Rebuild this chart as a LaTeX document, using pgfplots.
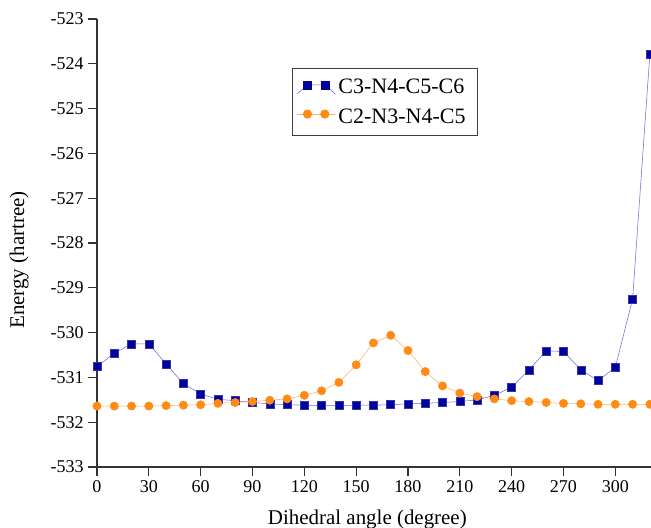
\documentclass[border=0pt]{standalone}
\usepackage{fontspec}
\setmainfont{Liberation Serif}
\usepackage{pgfplots}
\pgfplotsset{compat=1.18}
\definecolor{navy}{HTML}{00009C}
\definecolor{bline}{HTML}{6A6ADF}
\definecolor{orm}{HTML}{FF8A14}
\definecolor{orl}{HTML}{FFAE5C}
\begin{document}
\begin{tikzpicture}
\begin{axis}[
  scale only axis,
  width=415.5pt, height=336pt,
  xmin=0, xmax=320.65, ymin=-533, ymax=-523,
  axis lines=left, axis line style={-, thick, black!80},
  tick align=outside, major tick length=6.5pt,
  tick style={thick, black!80},
  xtick={0,30,...,300}, ytick={-533,-532,...,-523},
  yticklabels={-533,-532,-531,-530,-529,-528,-527,-526,-525,-524,-523},
  /pgf/number format/assume math mode=true,
  /pgf/number format/set thousands separator={},
  tick label style={font=\fontsize{13.5}{15}\selectfont},
  xlabel={Dihedral angle (degree)}, ylabel={Energy (hartree)},
  every axis x label/.style={at={(axis description cs:0.488,0)}, yshift=-39.5pt, anchor=center, font=\fontsize{15.7}{17}\selectfont},
  every axis y label/.style={at={(axis description cs:0,0.462)}, xshift=-58.5pt, anchor=center, rotate=90, font=\fontsize{15.7}{17}\selectfont},
  legend style={at={(axis description cs:0.352,0.8906)}, anchor=north west,
    draw=black!75, thick, font=\fontsize{16.5}{18}\selectfont, row sep=5.5pt,
    inner xsep=3pt, inner ysep=6pt},
  legend cell align=left,
  clip=false,
]
\addplot[bline, thin, mark=square*, mark size=3pt, mark options={fill=navy, draw=navy!80!white},
  legend image code/.code={\draw[bline,thin] (0pt,-5pt) -- (8pt,2pt) -- (21pt,2pt) -- (29pt,-5pt);
     \fill[navy] (5pt,-1pt) rectangle (11pt,5pt); \fill[navy] (18pt,-1pt) rectangle (24pt,5pt);}]
coordinates {
(0,-530.76) (10,-530.46) (20,-530.25) (30,-530.25) (40,-530.70) (50,-531.14)
(60,-531.37) (70,-531.49) (80,-531.52) (90,-531.56) (100,-531.59) (110,-531.61)
(120,-531.62) (130,-531.63) (140,-531.63) (150,-531.62) (160,-531.62) (170,-531.61)
(180,-531.59) (190,-531.58) (200,-531.56) (210,-531.54) (220,-531.50) (230,-531.40)
(240,-531.22) (250,-530.83) (260,-530.41) (270,-530.42) (280,-530.83) (290,-531.07)
(300,-530.78) (310,-529.25) (320,-523.78)
};
\addlegendentry{C3-N4-C5-C6\rule{5pt}{0pt}}
\addplot[orl, thin, mark=*, mark size=3.1pt, mark options={fill=orm, draw=orm},
  legend image code/.code={\draw[orl,thin] (0pt,2pt) -- (29pt,2pt);
     \fill[orm] (8pt,2pt) circle (3.2pt); \fill[orm] (21pt,2pt) circle (3.2pt);}]
coordinates {
(0,-531.64) (10,-531.64) (20,-531.64) (30,-531.64) (40,-531.63) (50,-531.62)
(60,-531.61) (70,-531.58) (80,-531.56) (90,-531.54) (100,-531.51) (110,-531.48)
(120,-531.40) (130,-531.30) (140,-531.11) (150,-530.72) (160,-530.23) (170,-530.06)
(180,-530.40) (190,-530.87) (200,-531.19) (210,-531.35) (220,-531.43) (230,-531.48)
(240,-531.52) (250,-531.54) (260,-531.56) (270,-531.58) (280,-531.59) (290,-531.60)
(300,-531.60) (310,-531.60) (320,-531.60)
};
\addlegendentry{C2-N3-N4-C5}
\end{axis}
\pgfresetboundingbox
\path ([xshift=-72.75pt,yshift=-45.75pt]current axis.south west) rectangle ([yshift=14.25pt]current axis.north east);
\end{tikzpicture}
\end{document}
